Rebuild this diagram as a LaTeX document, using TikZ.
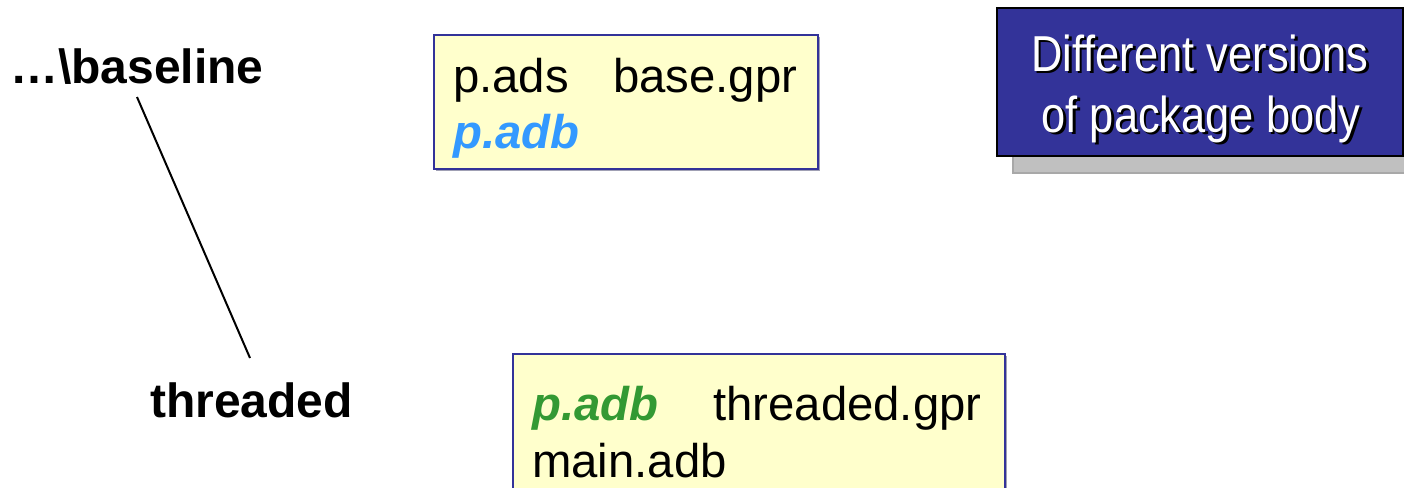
\documentclass[tikz,border=0pt]{standalone}
\usepackage{fontspec}
\setmainfont{Liberation Sans}
\newfontfamily\narrowsans[FakeStretch=0.86]{Liberation Sans}

\definecolor{noteyellow}{RGB}{255,255,204}
\definecolor{noteborder}{RGB}{51,51,153}
\definecolor{noteshadow}{RGB}{160,160,180}
\definecolor{titlefill}{RGB}{51,51,153}
\definecolor{titleshadow}{RGB}{192,192,192}
\definecolor{titleshadowline}{RGB}{168,168,168}
\definecolor{bodyblue}{RGB}{51,153,255}
\definecolor{bodygreen}{RGB}{51,153,51}

\tikzset{
  filebox/.style={draw=noteborder, line width=2.4pt, fill=noteyellow,
    rectangle, anchor=north west, inner sep=0pt},
  boxshadow/.style={fill=noteshadow, draw=none, rectangle, anchor=north west, inner sep=0pt},
  titlebox/.style={draw=black, line width=2.2pt, fill=titlefill,
    rectangle, anchor=north west, inner sep=0pt},
  titleback/.style={draw=titleshadowline, line width=1.5pt, fill=titleshadow,
    rectangle, anchor=north west, inner sep=0pt},
  filetext/.style={anchor=base west, inner sep=0pt, font=\fontsize{47.3}{56}\selectfont},
  branch/.style={anchor=base west, inner sep=0pt, font=\fontsize{48}{56}\selectfont\bfseries},
  titletext/.style={anchor=base, inner sep=0pt, font=\fontsize{50.5}{60}\selectfont\narrowsans},
  link/.style={draw=black, line width=2pt}
}

\begin{document}
\begin{tikzpicture}[x=1pt,y=-1pt]
\useasboundingbox (0,0) rectangle (1404,487);
\clip (0,0) rectangle (1404,487);

% branch names and the line joining them
\node[branch] (baseline) at (10,83) {…\textbackslash baseline};
\node[branch] (threaded) at (150,417) {threaded};
\coordinate (linktop) at (137,97);
\coordinate (linkbot) at (250,358);
\draw[link] (linktop) -- (linkbot);

% files of the baseline project
\node[boxshadow, minimum width=384pt, minimum height=134pt] (baseshadow) at (436,37) {};
\node[filebox, minimum width=384pt, minimum height=134pt] (basebox) at (433,34) {};
\node[filetext] (pads) at (453,92) {p.ads};
\node[filetext] (basegpr) at (613,92) {base.gpr};
\node[filetext, font=\fontsize{47.3}{56}\selectfont\bfseries\itshape, text=bodyblue] (padbbase) at (453,148) {p.adb};

% files of the threaded project
\node[boxshadow, minimum width=492pt, minimum height=150pt] (thrshadow) at (515,356) {};
\node[filebox, minimum width=492pt, minimum height=150pt] (thrbox) at (512,353) {};
\node[filetext, font=\fontsize{47.3}{56}\selectfont\bfseries\itshape, text=bodygreen] (padbthr) at (532,420) {p.adb};
\node[filetext] (thrgpr) at (713,420) {threaded.gpr};
\node[filetext] (mainadb) at (532,477) {main.adb};

% caption box
\node[titleback, minimum width=400pt, minimum height=148pt] (captionback) at (1012,24) {};
\node[titlebox, minimum width=406pt, minimum height=148pt] (caption) at (996,7) {};
\node[titletext, text=black] (cap1s) at (1202.5,73.5) {Different versions};
\node[titletext, text=black] (cap2s) at (1203.5,134.5) {of package body};
\node[titletext, text=white] (cap1) at (1200,71) {Different versions};
\node[titletext, text=white] (cap2) at (1201,132) {of package body};
\end{tikzpicture}
\end{document}
